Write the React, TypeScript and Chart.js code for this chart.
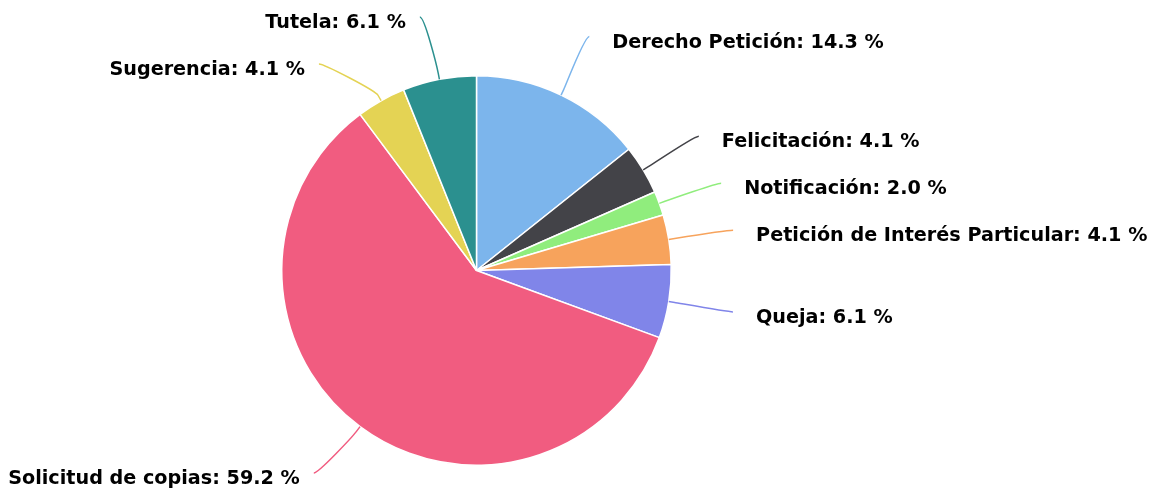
import React, { useEffect, useRef } from "react";
import { Chart, registerables } from "chart.js";

Chart.register(...registerables);

const categories = [
  "Derecho Petición",
  "Felicitación",
  "Notificación",
  "Petición de Interés Particular",
  "Queja",
  "Solicitud de copias",
  "Sugerencia",
  "Tutela",
];
const percentages = [14.3, 4.1, 2.0, 4.1, 6.1, 59.2, 4.1, 6.1];
const colors = ["#7cb5ec", "#434348", "#90ed7d", "#f7a35c", "#8085e9", "#f15c80", "#e4d354", "#2b908f"];

const LABEL_DISTANCE = 65;
const MIN_GAP = 47;

const labelPlugin = {
  id: "pieLabels",
  afterDatasetsDraw(chart: any) {
    const ctx = chart.ctx;
    const meta = chart.getDatasetMeta(0);
    const H = chart.height;
    const items = meta.data.map((arc: any, i: number) => {
      const p = arc.getProps(["x", "y", "startAngle", "endAngle", "outerRadius"], true);
      const mid = (p.startAngle + p.endAngle) / 2;
      const R = p.outerRadius + LABEL_DISTANCE;
      const cos = Math.cos(mid);
      const sin = Math.sin(mid);
      return { i, cx: p.x, cy: p.y, r: p.outerRadius, R, cos, sin, left: cos < 0, y: p.y + R * sin };
    });
    const top = 17;
    const bottom = H - 17;
    for (const side of [true, false]) {
      const list = items.filter((d: any) => d.left === side).sort((a: any, b: any) => a.y - b.y);
      for (let k = 0; k < list.length; k++) {
        if (list[k].y < top) list[k].y = top;
        if (k > 0 && list[k].y < list[k - 1].y + MIN_GAP) list[k].y = list[k - 1].y + MIN_GAP;
      }
      for (let k = list.length - 1; k >= 0; k--) {
        if (list[k].y > bottom) list[k].y = bottom;
        if (k < list.length - 1 && list[k].y > list[k + 1].y - MIN_GAP) list[k].y = list[k + 1].y - MIN_GAP;
      }
    }
    ctx.save();
    for (const d of items) {
      const dy = d.y - d.cy;
      const dx = Math.sqrt(Math.max(d.R * d.R - dy * dy, 0));
      const lx = d.cx + (d.left ? -dx : dx);
      const ly = d.y;
      const tx = d.cx + d.r * d.cos;
      const ty = d.cy + d.r * d.sin;
      const bx = d.cx + (d.r + 6) * d.cos;
      const by = d.cy + (d.r + 6) * d.sin;
      ctx.beginPath();
      ctx.moveTo(lx, ly);
      ctx.bezierCurveTo(lx + (d.left ? 5 : -5), ly, 2 * bx - tx, 2 * by - ty, bx, by);
      ctx.lineTo(tx, ty);
      ctx.strokeStyle = colors[d.i];
      ctx.lineWidth = 1.5;
      ctx.stroke();

      ctx.font = 'bold 19.2px "DejaVu Sans"';
      ctx.fillStyle = "#000000";
      ctx.textBaseline = "alphabetic";
      const text = categories[d.i] + ": " + percentages[d.i].toFixed(1) + " %";
      if (d.left) {
        ctx.textAlign = "right";
        ctx.fillText(text, lx - 14, ly + 11);
      } else {
        ctx.textAlign = "left";
        ctx.fillText(text, lx + 23, ly + 11);
      }
    }
    ctx.restore();
  },
};

export default function App() {
  const ref = useRef<HTMLCanvasElement>(null);
  useEffect(() => {
    if (!ref.current) return;
    const chart = new Chart(ref.current, {
      type: "pie",
      data: {
        labels: categories,
        datasets: [
          {
            data: percentages,
            backgroundColor: colors,
            borderColor: "#ffffff",
            borderWidth: 1.5,
            hoverOffset: 0,
          },
        ],
      },
      options: {
        animation: false,
        responsive: false,
        events: [],
        layout: { padding: { left: 281, top: 75, right: 487, bottom: 24 } },
        plugins: { legend: { display: false }, tooltip: { enabled: false } },
      },
      plugins: [labelPlugin],
    } as any);
    return () => chart.destroy();
  }, []);
  return (
    <div style={{ position: "absolute", left: 0, top: 0, width: 1159, height: 490, background: "#fff" }}>
      <canvas ref={ref} width={1159} height={490} style={{ display: "block" }} />
    </div>
  );
}
